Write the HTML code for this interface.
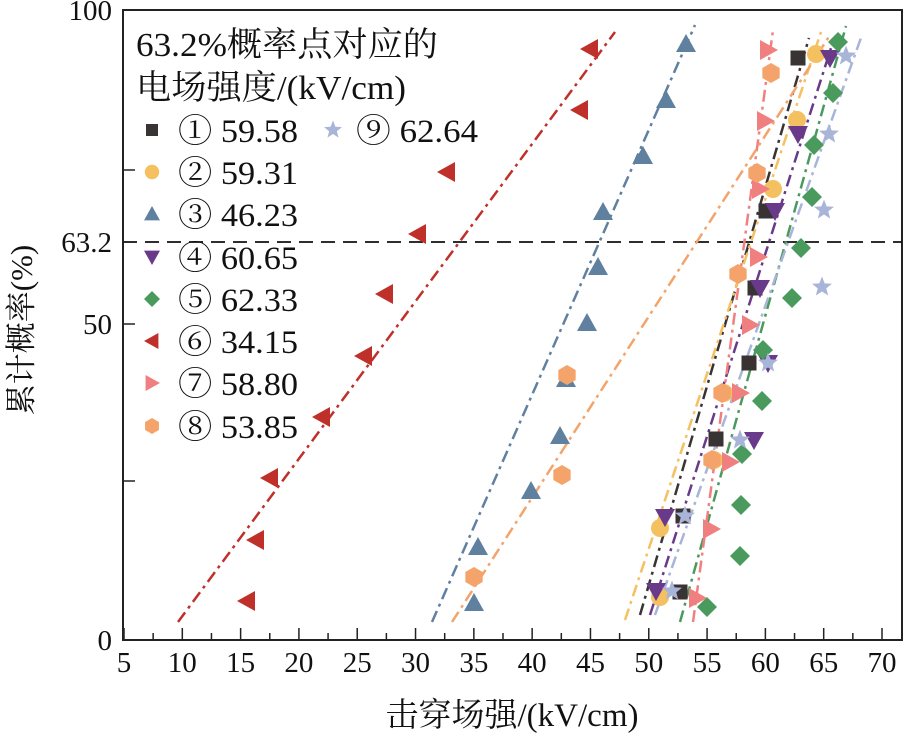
<!DOCTYPE html>
<html><head><meta charset="utf-8"><style>
body{margin:0;background:#fff}
svg{display:block;font-family:"Liberation Serif","Noto Serif CJK SC",serif}
</style></head><body>
<svg id="s" width="904" height="733" viewBox="0 0 904 733" xmlns="http://www.w3.org/2000/svg">
<rect x="123" y="10" width="779" height="630" fill="none" stroke="#222" stroke-width="2"/>
<line x1="123" y1="242" x2="902" y2="242" stroke="#111" stroke-width="1.8" stroke-dasharray="14,8"/>
<g font-size="29" fill="#111" text-anchor="end">
<text x="112" y="20">100</text><text x="112" y="252">63.2</text><text x="112" y="334">50</text><text x="112" y="650">0</text>
</g>
<text transform="translate(32,330) rotate(-90)" font-size="31" text-anchor="middle" fill="#111">累计概率(%)</text>
<text x="512" y="726" font-size="33" text-anchor="middle" fill="#111">击穿场强/(kV/cm)</text>
<g id="ticks" stroke="#222" stroke-width="1.5"></g>
<g id="xl" font-size="29" fill="#111" text-anchor="middle"></g>
<g id="lines" fill="none" stroke-width="2.5" stroke-dasharray="12,5,3,5"></g>
<g id="pts"></g>
<g id="leg" font-size="33" fill="#111"></g>
<text x="136" y="56" font-size="34" fill="#111" textLength="302" lengthAdjust="spacingAndGlyphs">63.2%概率点对应的</text>
<text x="136" y="99" font-size="34" fill="#111" textLength="270" lengthAdjust="spacingAndGlyphs">电场强度/(kV/cm)</text>
</svg>
<script>
const NS="http://www.w3.org/2000/svg";
function el(p,t,a,txt){const e=document.createElementNS(NS,t);for(const k in a)e.setAttribute(k,a[k]);if(txt!=null)e.textContent=txt;document.getElementById(p).appendChild(e);return e;}
for(let v=5;v<=70;v+=2.5){const x=124+(v-5)*758/65;const maj=(v%5==0);el('ticks','line',{x1:x,y1:640,x2:x,y2:640-(maj?12:7)});if(maj)el('xl','text',{x:x,y:672},String(v));}
[170,242,324,481].forEach(y=>el('ticks','line',{x1:123,y1:y,x2:135,y2:y}));
function mk(p,sh,c,x,y,r){r=r||9;let d;
 if(sh=='sq'){el(p,'rect',{x:x-r*0.75,y:y-r*0.75,width:r*1.5,height:r*1.5,fill:c});return;}
 if(sh=='ci'){el(p,'circle',{cx:x,cy:y,r:r*0.9,fill:c});return;}
 if(sh=='hex'){let s='';for(let i=0;i<6;i++){const a=Math.PI/3*i+Math.PI/6;s+=(x+r*Math.cos(a))+','+(y+r*Math.sin(a))+' ';}el(p,'polygon',{points:s,fill:c});return;}
 if(sh=='up')d=[[x,y-r],[x+r,y+r*0.8],[x-r,y+r*0.8]];
 if(sh=='dn')d=[[x,y+r],[x+r,y-r*0.8],[x-r,y-r*0.8]];
 if(sh=='lt')d=[[x-r,y],[x+r*0.8,y-r],[x+r*0.8,y+r]];
 if(sh=='rt')d=[[x+r,y],[x-r*0.8,y-r],[x-r*0.8,y+r]];
 if(sh=='di')d=[[x,y-r],[x+r,y],[x,y+r],[x-r,y]];
 if(sh=='st'){d=[];for(let i=0;i<10;i++){const a=-Math.PI/2+i*Math.PI/5,rr=i%2?r*0.45:r*1.05;d.push([x+rr*Math.cos(a),y+rr*Math.sin(a)]);}}
 el(p,'polygon',{points:d.map(q=>q.join(',')).join(' '),fill:c});}
const S=[
 {c:'#3a3333',sh:'sq',l:[640,615,809,38],p:[[798,58],[766,211],[755,288],[749,363],[716,439],[683,516],[680,592]]},
 {c:'#f5c060',sh:'ci',l:[625,620,821,32],p:[[816,54],[797,120],[773,189],[724,393],[714,460],[660,528],[660,597]]},
 {c:'#6080a0',sh:'up',l:[432,622,695,25],p:[[686,44],[666,100],[643,156],[603,212],[598,267],[587,323],[566,379],[560,436],[531,491],[478,547],[474,603]]},
 {c:'#6a3a8a',sh:'dn',l:[650,615,832,45],p:[[830,58],[798,134],[775,211],[760,288],[768,363],[754,440],[665,517],[656,591]]},
 {c:'#4a9a5e',sh:'di',l:[680,622,846,26],p:[[838,42],[833,93],[814,145],[812,197],[801,248],[792,298],[763,350],[762,401],[742,454],[741,505],[740,556],[707,607]]},
 {c:'#c0302a',sh:'lt',l:[178,622,615,32],p:[[590,49],[580,110],[447,172],[418,234],[385,294],[364,356],[322,417],[270,478],[256,540],[247,601]]},
 {c:'#f08080',sh:'rt',l:[693,622,773,30],p:[[768,50],[765,121],[760,189],[758,257],[750,325],[740,393],[730,462],[711,529],[697,598]]},
 {c:'#f4a46a',sh:'hex',l:[452,622,830,35],p:[[771,73],[757,173],[738,274],[722,393],[712,460],[567,375],[562,475],[474,577]]},
 {c:'#a8b4d8',sh:'st',l:[655,615,862,35],p:[[846,56],[829,134],[824,210],[822,287],[768,363],[740,440],[685,516],[672,591]]}
];
S.forEach(s=>{el('lines','line',{x1:s.l[0],y1:s.l[1],x2:s.l[2],y2:s.l[3],stroke:s.c});s.p.forEach(q=>mk('pts',s.sh,s.c,q[0],q[1],10));});
const L=['① 59.58','② 59.31','③ 46.23','④ 60.65','⑤ 62.33','⑥ 34.15','⑦ 58.80','⑧ 53.85'];
const ys=[130,172,214,257,299,341,383,426];
L.forEach((t,i)=>{mk('leg',S[i].sh,S[i].c,152,ys[i],8);el('leg','text',{x:178,y:ys[i]+12,textLength:120,lengthAdjust:'spacingAndGlyphs'},t);});
mk('leg','st','#a8b4d8',333,130,9);el('leg','text',{x:356,y:142,textLength:122,lengthAdjust:'spacingAndGlyphs'},'⑨ 62.64');
</script>
</body></html>
